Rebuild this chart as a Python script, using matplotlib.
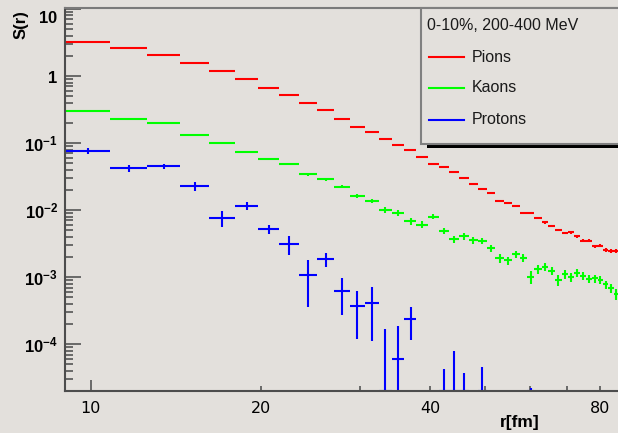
import numpy as np
import matplotlib.pyplot as plt
from matplotlib.patches import Rectangle
from matplotlib.lines import Line2D

plt.rcParams['mathtext.fontset'] = 'custom'
plt.rcParams['mathtext.rm'] = 'Liberation Sans'
plt.rcParams['mathtext.bf'] = 'Liberation Sans:bold'

# r bins: 1.8 fm wide, first bin starts at 9 fm
bin_width = 1.8
r_centers = 9.0 + bin_width * (np.arange(43) + 0.5)

pions = [3.25, 2.65, 2.08, 1.55, 1.20, 0.902, 0.655, 0.515, 0.400, 0.314,
         0.2305, 0.175, 0.146, 0.116, 0.0924, 0.0778, 0.0629, 0.0486, 0.0434, 0.0365,
         0.0300, 0.0242, 0.0208, 0.0178, 0.0138, 0.0126, 0.0115, 0.00893, 0.00893, 0.00752,
         0.00655, 0.00583, 0.00503, 0.00454, 0.00465, 0.00405, 0.00348, 0.00348, 0.00290, 0.00293,
         0.00256, 0.00247, 0.00244]
pions_err = [0.02, 0.017, 0.014, 0.011, 0.009, 0.007, 0.0055, 0.0047, 0.004, 0.0034,
             0.0027, 0.0022, 0.0019, 0.0016, 0.0014, 0.0013, 0.0011, 0.0009, 0.00085, 0.00075,
             0.00065, 0.00055, 0.0005, 0.00045, 0.0004, 0.00037, 0.00035, 0.0003, 0.0003, 0.00027,
             0.00025, 0.00023, 0.00021, 0.0002, 0.0002, 0.00019, 0.00017, 0.00017, 0.00016, 0.00016,
             0.00015, 0.00015, 0.00015]

kaons = [0.297, 0.226, 0.197, 0.133, 0.101, 0.0734, 0.0583, 0.0486, 0.0341, 0.0287,
         0.0223, 0.0163, 0.0136, 0.0101, 0.00902, 0.00685, 0.00608, 0.00794, 0.00486, 0.00366,
         0.00405, 0.00356, 0.00348, 0.00268, 0.00192, 0.00178, 0.00218, 0.00194, 0.00101, 0.00130,
         0.00143, 0.00124, 0.000902, 0.00110, 0.00101, 0.00116, 0.00104, 0.000934, 0.000954, 0.000902,
         0.000778, 0.000678, 0.000557]
kaons_err = [0.006, 0.005, 0.0045, 0.0035, 0.003, 0.0025, 0.0022, 0.002, 0.0017, 0.0015,
             0.0013, 0.0011, 0.001, 0.0009, 0.0009, 0.0008, 0.0007, 0.0007, 0.0005, 0.00045,
             0.00045, 0.0004, 0.0004, 0.00033, 0.00027, 0.00025, 0.00025, 0.00024, 0.00022, 0.0002,
             0.0002, 0.00018, 0.00016, 0.00016, 0.00015, 0.00015, 0.00014, 0.00013, 0.00013, 0.00012,
             0.00011, 0.0001, 0.0001]

nan = np.nan
protons = [0.0773, 0.0419, 0.0449, 0.0226, 0.00767, 0.0116, 0.0052, 0.00314, 0.00107, 0.00186,
           0.000625, 0.000369, 0.000413, 0.0, 5.97e-5, 2.34e-4, nan, nan, 0.0, 0.0,
           0.0, nan, 0.0, nan, nan, nan, nan, nan, 0.0, nan,
           nan, nan, nan, nan, nan, nan, nan, nan, nan, nan,
           nan, nan, nan]
protons_err = [0.0083, 0.005, 0.004, 0.0035, 0.0021, 0.0015, 0.00084, 0.001, 0.00071, 0.00045,
               0.00035, 0.00025, 0.0003, 0.00017, 1.26e-4, 1.2e-4, nan, nan, 4.3e-5, 7.9e-5,
               3.7e-5, nan, 4.5e-5, nan, nan, nan, nan, nan, 2.2e-5, nan,
               nan, nan, nan, nan, nan, nan, nan, nan, nan, nan,
               nan, nan, nan]

ymin, ymax = 2.0e-5, 10.35
xmin, xmax = 9.0, 86.1
bg = '#e3e0dc'

W, H = 618, 433


def fx(px):
    return px / W


def fy(py):
    return 1 - py / H


def draw_hist(ax, vals, errs, color):
    # points below the axis floor sit on the floor, like ROOT does
    vals = np.asarray(vals, dtype=float)
    errs = np.asarray(errs, dtype=float)
    y = np.maximum(vals, ymin)
    lo = np.maximum(vals - errs, ymin)
    hi = vals + errs
    ax.errorbar(r_centers, y, xerr=bin_width / 2, yerr=[y - lo, hi - y],
                fmt='none', ecolor=color, elinewidth=1.5, capsize=0)


fig = plt.figure(figsize=(W / 100, H / 100), dpi=100, facecolor=bg)
ax = fig.add_axes([fx(65), fy(391), fx(618) - fx(65), fy(8) - fy(391)])
ax.set_facecolor(bg)

draw_hist(ax, pions, pions_err, '#ff0000')
draw_hist(ax, kaons, kaons_err, '#00ff00')
draw_hist(ax, protons, protons_err, '#0000ff')

ax.set_xscale('log')
ax.set_yscale('log')
ax.set_xlim(xmin, xmax)
ax.set_ylim(ymin, ymax)

ax.set_xticks([10], labels=['10'])
ax.set_xticks([20, 30, 40, 50, 60, 70, 80], labels=['20', '', '40', '', '', '', '80'], minor=True)
ax.tick_params(axis='x', which='both', direction='in', colors='#555555', labelcolor='black',
               labelsize=11.5, pad=7)
ax.tick_params(axis='x', which='major', length=8, width=1.2)
ax.tick_params(axis='x', which='minor', length=3.6, width=1.2)

yt = [1e-4, 1e-3, 1e-2, 1e-1, 1, 10]
ylabels = [r'$\mathbf{10^{-4}}$', r'$\mathbf{10^{-3}}$', r'$\mathbf{10^{-2}}$',
           r'$\mathbf{10^{-1}}$', r'$\mathbf{1}$', r'$\mathbf{10}$']
ax.set_yticks(yt, labels=ylabels)
ax.yaxis.set_minor_formatter(plt.NullFormatter())
ax.tick_params(axis='y', which='both', direction='in', colors='#555555', labelcolor='black',
               labelsize=12, pad=5)
ax.tick_params(axis='y', which='major', length=11.5, width=1.2)
ax.tick_params(axis='y', which='minor', length=5.8, width=1.2)
# keep the top label inside the frame
ax.get_yticklabels()[-1].set_verticalalignment('top')

for lab in ax.get_xticklabels(which='both'):
    lab.set_family('DejaVu Sans')

ax.spines['right'].set_visible(False)
ax.spines['left'].set_color('#4d4d4d')
ax.spines['bottom'].set_color('#4d4d4d')
ax.spines['top'].set_color('#7a7a7a')
for s in ['left', 'bottom', 'top']:
    ax.spines[s].set_linewidth(1.5)

fig.text(fx(21), fy(10), 'S(r)', rotation=90, ha='center', va='top',
         fontsize=12, fontweight='bold', family='Liberation Sans')
fig.text(fx(540), fy(422), 'r[fm]', ha='right', va='center',
         fontsize=12.5, fontweight='bold', family='Liberation Sans')

# legend box with a drop shadow
box_w = fx(640) - fx(421)
box_h = fy(8) - fy(144)
fig.add_artist(Rectangle((fx(427), fy(148)), box_w, box_h, transform=fig.transFigure,
                         facecolor='black', edgecolor='none', zorder=5))
fig.add_artist(Rectangle((fx(421), fy(144)), box_w, box_h, transform=fig.transFigure,
                         facecolor=bg, edgecolor='#808080', lw=1.5, zorder=6))
fig.text(fx(427), fy(25), '0-10%, 200-400 MeV', ha='left', va='center', fontsize=11.5,
         family='Liberation Sans', color='#1a1a1a', zorder=7)
for label, color, py in [('Pions', '#ff0000', 57), ('Kaons', '#00ff00', 88), ('Protons', '#0000ff', 120)]:
    fig.add_artist(Line2D([fx(429), fx(464)], [fy(py), fy(py)], transform=fig.transFigure,
                          color=color, lw=1.5, zorder=7))
    fig.text(fx(472), fy(py), label, ha='left', va='center', fontsize=11.5,
             family='Liberation Sans', color='#1a1a1a', zorder=7)

fig.savefig('out.png', dpi=100, facecolor=bg)
